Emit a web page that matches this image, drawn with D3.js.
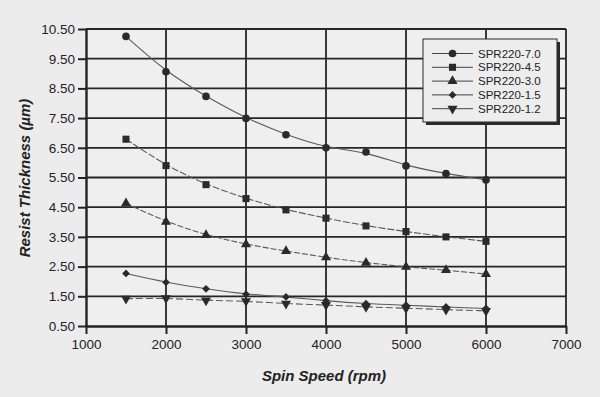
<!DOCTYPE html>
<html>
<head>
<meta charset="utf-8">
<script src="https://cdn.jsdelivr.net/npm/d3@7"></script>
<style>
  body { margin: 0; background: #ececec; }
  svg { display: block; }
  text { font-family: "Liberation Sans", Arial, Helvetica, sans-serif; fill: #222; }
</style>
</head>
<body>
<div id="chart"></div>
<script>
// spin speeds (rpm)
var speeds = [1500, 2000, 2500, 3000, 3500, 4000, 4500, 5000, 5500, 6000];

// resist thickness (um) per product
var spr70 = [10.25, 9.06, 8.23, 7.49, 6.94, 6.50, 6.36, 5.89, 5.63, 5.42];
var spr45 = [6.79, 5.90, 5.26, 4.79, 4.41, 4.13, 3.87, 3.68, 3.50, 3.35];
var spr30 = [4.63, 4.01, 3.56, 3.25, 3.02, 2.81, 2.63, 2.49, 2.38, 2.25];
var spr15 = [2.27, 1.97, 1.75, 1.57, 1.48, 1.35, 1.25, 1.20, 1.14, 1.09];
var spr12 = [1.42, 1.44, 1.36, 1.34, 1.25, 1.21, 1.14, 1.10, 1.05, 1.01];

var seriesNames = ["SPR220-7.0", "SPR220-4.5", "SPR220-3.0", "SPR220-1.5", "SPR220-1.2"];
var seriesValues = [spr70, spr45, spr30, spr15, spr12];

var xTicks = [1000, 2000, 3000, 4000, 5000, 6000, 7000];
var yTicks = [0.5, 1.5, 2.5, 3.5, 4.5, 5.5, 6.5, 7.5, 8.5, 9.5, 10.5];

var width = 600, height = 397;

var svg = d3.select("#chart").append("svg")
  .attr("width", width)
  .attr("height", height);

var x = d3.scaleLinear().domain([1000, 7000]).range([86, 566]);
var y = d3.scaleLinear().domain([0.5, 10.5]).range([326, 29]);

// plot background
svg.append("rect")
  .attr("x", x(1000)).attr("y", y(10.5))
  .attr("width", x(7000) - x(1000)).attr("height", y(0.5) - y(10.5))
  .attr("fill", "#efefef");

// grid
var grid = svg.append("g").attr("stroke", "#262626").attr("stroke-width", 1.8);
grid.selectAll(".gx").data(xTicks.slice(1)).enter().append("line")
  .attr("x1", function(d) { return x(d); }).attr("x2", function(d) { return x(d); })
  .attr("y1", y(0.5)).attr("y2", y(10.5));
grid.selectAll(".gy").data(yTicks.slice(1)).enter().append("line")
  .attr("y1", function(d) { return y(d); }).attr("y2", function(d) { return y(d); })
  .attr("x1", x(1000)).attr("x2", x(7000));

// axes
var xAxis = d3.axisBottom(x).tickValues(xTicks).tickSize(8).tickSizeOuter(0).tickPadding(5)
  .tickFormat(d3.format("d"));
var yAxis = d3.axisLeft(y).tickValues(yTicks).tickSize(8).tickSizeOuter(0).tickPadding(3)
  .tickFormat(d3.format(".2f"));

var gx = svg.append("g").attr("transform", "translate(0," + y(0.5) + ")").call(xAxis);
var gy = svg.append("g").attr("transform", "translate(" + x(1000) + ",0)").call(yAxis);

[gx, gy].forEach(function(g) {
  g.select(".domain").attr("stroke", "#222").attr("stroke-width", 2.4);
  g.selectAll(".tick line").attr("stroke", "#222").attr("stroke-width", 2);
  g.selectAll(".tick text").attr("font-size", 13.5).attr("fill", "#1e1e1e")
    .attr("font-family", "Liberation Sans, Arial, sans-serif");
});

// axis titles
svg.append("text")
  .attr("x", 324).attr("y", 381)
  .attr("text-anchor", "middle")
  .attr("font-size", 15).attr("font-weight", "bold").attr("font-style", "italic")
  .text("Spin Speed (rpm)");

svg.append("text")
  .attr("transform", "translate(30,178) rotate(-90)")
  .attr("text-anchor", "middle")
  .attr("font-size", 15).attr("font-weight", "bold").attr("font-style", "italic")
  .text("Resist Thickness (\u00b5m)");

// marker shapes
var shapes = [
  { type: d3.symbolCircle, size: 46, rot: 0 },
  { type: d3.symbolSquare, size: 50, rot: 0 },
  { type: d3.symbolTriangle, size: 44, rot: 0 },
  { type: d3.symbolSquare, size: 30, rot: 45 },
  { type: d3.symbolTriangle, size: 44, rot: 180 }
];
var dashes = [null, "7,2", "6,2", null, "7,3"];

var line = d3.line()
  .x(function(d) { return x(d[0]); })
  .y(function(d) { return y(d[1]); })
  .curve(d3.curveBasis);

var plot = svg.append("g");
seriesValues.forEach(function(vals, i) {
  var pts = speeds.map(function(s, j) { return [s, vals[j]]; });
  plot.append("path")
    .datum(pts)
    .attr("d", line)
    .attr("fill", "none")
    .attr("stroke", "#5a5a5a")
    .attr("stroke-width", 1.1)
    .attr("stroke-dasharray", dashes[i]);
  plot.selectAll(".m" + i).data(pts).enter().append("path")
    .attr("d", d3.symbol().type(shapes[i].type).size(shapes[i].size))
    .attr("transform", function(d) {
      return "translate(" + x(d[0]) + "," + y(d[1]) + ") rotate(" + shapes[i].rot + ")";
    })
    .attr("fill", "#2a2a2a");
});

// legend
var lg = svg.append("g").attr("transform", "translate(423,39)");
lg.append("rect").attr("x", 3).attr("y", 3).attr("width", 134).attr("height", 83).attr("fill", "#2a2a2a");
lg.append("rect").attr("x", 0).attr("y", 0).attr("width", 134).attr("height", 83)
  .attr("fill", "#ededed").attr("stroke", "#2a2a2a").attr("stroke-width", 1);

seriesNames.forEach(function(name, i) {
  var row = lg.append("g").attr("transform", "translate(0," + (14.5 + i * 13.8) + ")");
  row.append("line").attr("x1", 9).attr("x2", 50).attr("y1", 0).attr("y2", 0)
    .attr("stroke", "#444").attr("stroke-width", 1);
  row.append("path")
    .attr("d", d3.symbol().type(shapes[i].type).size(shapes[i].size))
    .attr("transform", "translate(29.5,0) rotate(" + shapes[i].rot + ")")
    .attr("fill", "#2a2a2a");
  row.append("text").attr("x", 55).attr("y", 4)
    .attr("font-size", 11.5).text(name);
});
</script>
</body>
</html>
